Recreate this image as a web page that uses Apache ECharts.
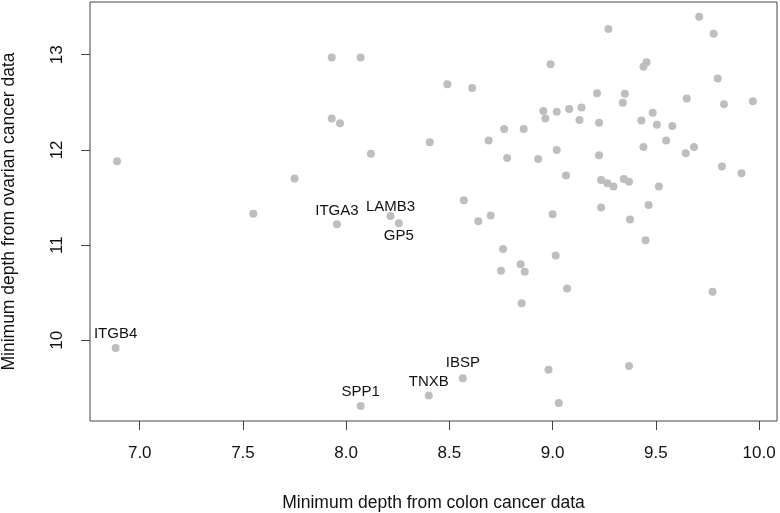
<!DOCTYPE html>
<html>
<head>
<meta charset="utf-8">
<script src="https://cdn.jsdelivr.net/npm/echarts@6/dist/echarts.min.js"></script>
<style>
html,body{margin:0;padding:0;background:#fff;}
#chart{width:780px;height:513px;}
</style>
</head>
<body>
<div id="chart"></div>
<script>
// Unlabelled genes: minimum depth (colon, ovarian)
const colonDepth = [
  6.89, 7.55, 7.75, 7.93, 8.07, 7.93, 7.97, 8.12, 8.405, 8.49,
  8.61, 8.57, 8.64, 8.70, 8.69, 8.765, 8.86, 8.78, 8.93, 8.955,
  8.965, 8.99, 9.27, 9.71, 9.78, 9.455, 9.44, 9.80, 9.215, 9.35,
  9.34, 9.65, 9.83, 9.97, 9.02, 9.08, 9.14, 9.13, 9.225, 9.43,
  9.485, 9.505, 9.58, 9.55, 9.02, 9.225, 9.44, 9.645, 9.685, 9.82,
  9.915, 9.065, 9.235, 9.265, 9.295, 9.345, 9.37, 9.515, 9.235, 9.465,
  9.00, 9.375, 9.45, 8.76, 9.015, 8.75, 8.845, 8.865, 8.85, 9.07,
  9.775, 8.98, 9.37, 9.03
];
const ovarianDepth = [
  11.88, 11.33, 11.70, 12.97, 12.97, 12.33, 12.28, 11.96, 12.08, 12.69,
  12.65, 11.47, 11.25, 11.31, 12.10, 12.22, 12.22, 11.915, 11.905, 12.41,
  12.33, 12.90, 13.27, 13.40, 13.22, 12.92, 12.875, 12.75, 12.595, 12.59,
  12.495, 12.54, 12.48, 12.51, 12.40, 12.43, 12.445, 12.315, 12.285, 12.31,
  12.39, 12.265, 12.25, 12.10, 12.00, 11.945, 12.03, 11.965, 12.03, 11.825,
  11.755, 11.73, 11.685, 11.65, 11.615, 11.695, 11.665, 11.615, 11.395, 11.42,
  11.325, 11.27, 11.05, 10.96, 10.89, 10.73, 10.80, 10.72, 10.39, 10.545,
  10.51, 9.69, 9.73, 9.34
];
// Labelled genes
const labelledGenes   = ["ITGB4", "ITGA3", "LAMB3", "GP5", "SPP1", "TNXB", "IBSP"];
const labelledColon   = [6.883, 7.955, 8.215, 8.255, 8.07, 8.40, 8.565];
const labelledOvarian = [9.92, 11.22, 11.305, 11.23, 9.31, 9.42, 9.60];
// Tick labels
const xTicks = [7.0, 7.5, 8.0, 8.5, 9.0, 9.5, 10.0];
const yTicks = [10, 11, 12, 13];

// label placement (style, not data): vertical shift of label centre from point centre
const labelShift = {
  ITGB4: -14, ITGA3: -13, LAMB3: -9, GP5: 13,
  SPP1: -14, TNXB: -14, IBSP: -15
};

const pointSize = 8;
const pointColor = '#bebebe';
const inkColor = '#111';
const lineColor = '#444';
const fontFamily = 'Liberation Sans, Arial, Helvetica, sans-serif';

const plainData = colonDepth.map((x, i) => [x, ovarianDepth[i]]);
const labelledData = labelledGenes.map((g, i) => ({
  name: g,
  value: [labelledColon[i], labelledOvarian[i]],
  label: {
    show: true,
    position: [pointSize / 2, pointSize / 2 + labelShift[g]],
    align: 'center',
    verticalAlign: 'middle',
    formatter: g,
    color: inkColor,
    fontSize: 15,
    fontFamily: fontFamily
  }
}));

const chart = echarts.init(document.getElementById('chart'), null, {renderer: 'canvas'});
chart.setOption({
  animation: false,
  backgroundColor: '#fff',
  grid: {
    left: 90, right: 3, top: 2, bottom: 92,
    containLabel: false,
    outerBoundsMode: 'none',
    show: true,
    borderColor: lineColor,
    borderWidth: 1,
    backgroundColor: 'transparent'
  },
  xAxis: {
    type: 'value',
    min: 6.759, max: 10.087,
    name: 'Minimum depth from colon cancer data',
    nameLocation: 'middle',
    nameGap: 73,
    nameTextStyle: {color: inkColor, fontSize: 17.5, fontFamily: fontFamily},
    axisLine: {show: false},
    splitLine: {show: false},
    axisTick: {show: true, inside: false, length: 9, customValues: xTicks,
               lineStyle: {color: lineColor, width: 1}},
    axisLabel: {show: true, margin: 24, customValues: xTicks,
                formatter: v => Number(v).toFixed(1),
                color: inkColor, fontSize: 17, fontFamily: fontFamily}
  },
  yAxis: {
    type: 'value',
    min: 9.152, max: 13.554,
    name: 'Minimum depth from ovarian cancer data',
    nameLocation: 'middle',
    nameGap: 72,
    nameRotate: 90,
    nameTextStyle: {color: inkColor, fontSize: 17.5, fontFamily: fontFamily},
    axisLine: {show: false},
    splitLine: {show: false},
    axisTick: {show: true, inside: false, length: 9, customValues: yTicks,
               lineStyle: {color: lineColor, width: 1}},
    axisLabel: {show: true, margin: 24, rotate: 90, customValues: yTicks,
                formatter: v => String(v),
                color: inkColor, fontSize: 17, fontFamily: fontFamily}
  },
  series: [
    {
      type: 'scatter',
      symbol: 'circle',
      symbolSize: pointSize,
      itemStyle: {color: pointColor, opacity: 1},
      data: plainData,
      silent: true
    },
    {
      type: 'scatter',
      symbol: 'circle',
      symbolSize: pointSize,
      itemStyle: {color: pointColor, opacity: 1},
      data: labelledData,
      silent: true,
      labelLayout: {hideOverlap: false}
    }
  ]
});
</script>
</body>
</html>
